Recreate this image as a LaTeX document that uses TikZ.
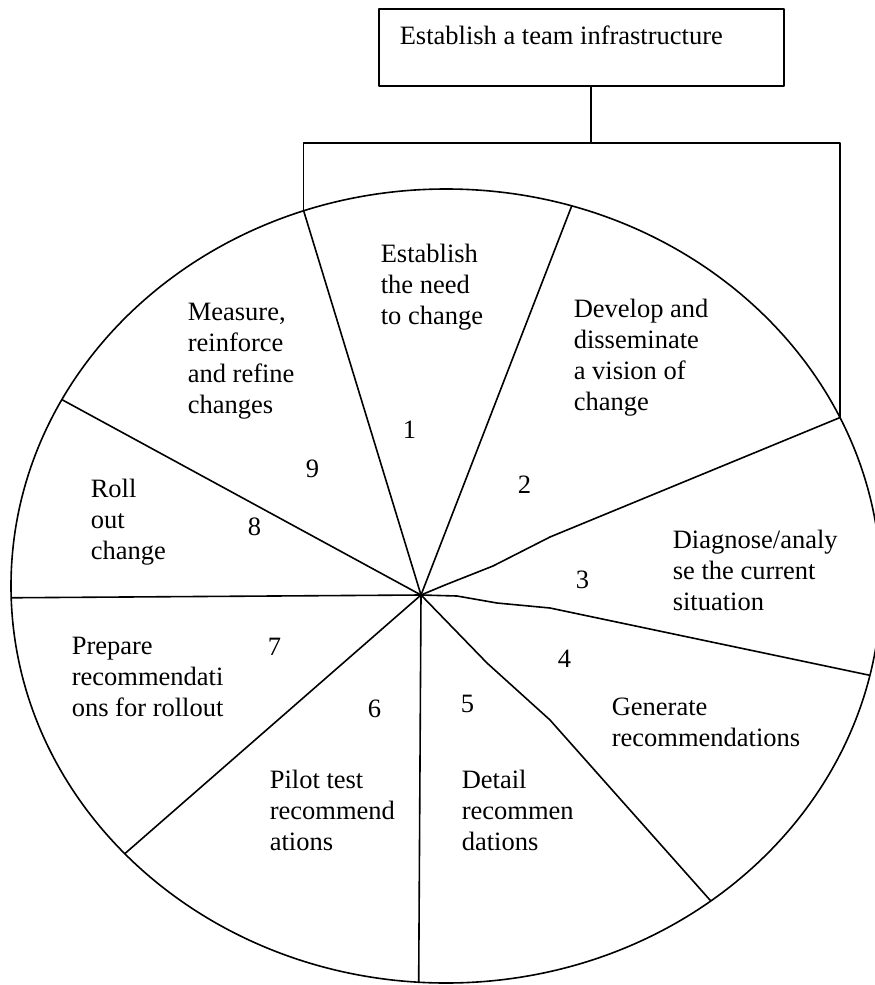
\documentclass[tikz,border=0pt]{standalone}
\usepackage{fontspec}
\setmainfont{Liberation Serif}
\usetikzlibrary{calc}
% left-aligned multi-line text whose baseline is that of its first line
\newcommand{\ml}[1]{\begin{tabular}[t]{@{}l@{}}#1\end{tabular}}
\begin{document}
\begin{tikzpicture}[x=1pt,y=-1pt,line width=1.6pt,line join=round,
  lbl/.style={anchor=base west,inner sep=0pt,font=\fontsize{26.5}{31.2}\selectfont},
  num/.style={lbl},
  infrabox/.style={draw,anchor=north west,minimum width=405pt,minimum height=77pt,inner sep=0pt}]
\useasboundingbox (0,0) rectangle (875,985);

% wheel outline and the points where the dividers meet it
\coordinate (c) at (446,586);
\coordinate (hub) at (421,595);
\foreach \n/\t in {p91/-109.1,p12/-73.2,p23/-25.1,p34/13,p45/52.5,
                   p56/93.6,p67/137.6,p78/178.3,p89/208}
  \coordinate (\n) at ($(c)+(\t:435 and 397)$);
\draw (c) ellipse [x radius=435,y radius=397];

% dividers between the nine steps
\draw (p91) -- (hub);
\draw (p12) -- (hub);
\draw (p23) -- (550,537) -- (493,566) -- (445,585) -- (hub);
\draw (hub) -- (457,596) -- (497,603) -- (550,608) -- (p34);
\draw (hub) -- (487,663) -- (550,720) -- (p45);
\draw (hub) -- (p56);
\draw (hub) -- (p67);
\draw (hub) -- (p78);
\draw (hub) -- (p89);

% team infrastructure box spanning the wheel
\node[infrabox] (infra) at (378,8) {};
\node[lbl] (infratext) at (399,44) {Establish a team infrastructure};
\coordinate (tee) at (591,143);
\draw (infra.south -| tee) -- (tee);
\draw (p91) -- (p91 |- tee) -- (p23 |- tee) -- (p23);

% step texts
\node[lbl] (s1) at (380,262) {\ml{Establish\\the need\\to change}};
\node[lbl] (s2) at (573,317) {\ml{Develop and\\disseminate\\a vision of\\change}};
\node[lbl] (s3) at (672,548) {\ml{Diagnose/analy\\se the current\\situation}};
\node[lbl] (s4) at (611,715) {\ml{Generate\\recommendations}};
\node[lbl] (s5) at (461,788) {\ml{Detail\\recommen\\dations}};
\node[lbl] (s6) at (269,788) {\ml{Pilot test\\recommend\\ations}};
\node[lbl] (s7) at (71,654) {\ml{Prepare\\recommendati\\ons for rollout}};
\node[lbl] (s8) at (90,497) {\ml{Roll\\out\\change}};
\node[lbl] (s9) at (187,320) {\ml{Measure,\\reinforce\\and refine\\changes}};

% step numbers
\node[num] (n1) at (402,438) {1};
\node[num] (n2) at (517,493) {2};
\node[num] (n3) at (575,588) {3};
\node[num] (n4) at (557,667) {4};
\node[num] (n5) at (460,712) {5};
\node[num] (n6) at (367,717) {6};
\node[num] (n7) at (267,655) {7};
\node[num] (n8) at (247,535) {8};
\node[num] (n9) at (305,477) {9};
\end{tikzpicture}
\end{document}
